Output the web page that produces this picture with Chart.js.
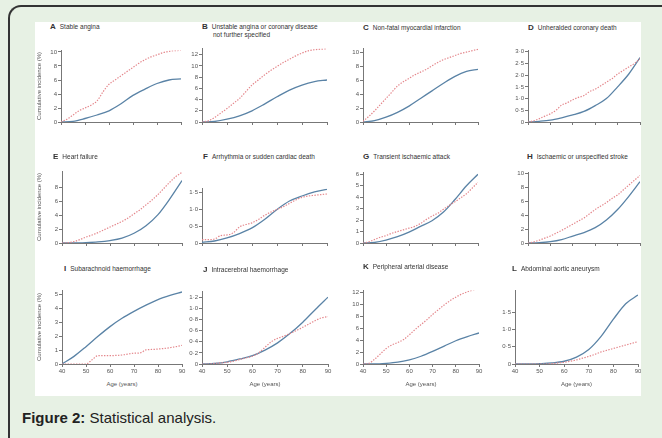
<!DOCTYPE html>
<html>
<head>
<meta charset="utf-8">
<script src="https://cdn.jsdelivr.net/npm/chart.js@4.4.1/dist/chart.umd.min.js"></script>
<style>
  body { margin: 0; width: 662px; height: 438px; background: #e7f1e4; position: relative; overflow: hidden; font-family: "Liberation Sans Narrow", "Liberation Sans", sans-serif; }
  .frame { position: absolute; left: 8px; top: 5px; width: 720px; height: 500px; border-top: 2px solid #333; border-left: 2px solid #333; border-top-left-radius: 13px; }
  #fig { position: absolute; left: 35px; top: 22px; width: 606px; height: 374px; background: #fff; overflow: hidden; }
  #fig canvas { position: absolute; }
  .ttl { position: absolute; font-size: 6.5px; color: #333; white-space: nowrap; line-height: 8px; }
  .ttl b { font-size: 8px; margin-right: 4px; }
  .ytl { position: absolute; font-size: 6px; color: #555; white-space: nowrap; transform: translate(-50%, -50%) rotate(-90deg); }
  .xtl { position: absolute; font-size: 6px; color: #555; white-space: nowrap; transform: translateX(-50%); }
  .cap { position: absolute; left: 22px; top: 410px; font-family: "Liberation Sans", Arial, sans-serif; font-size: 15px; line-height: 15px; color: #222; }
</style>
</head>
<body>
<div class="frame"></div>
<div id="fig"></div>
<div class="cap"><b>Figure 2:</b> Statistical analysis.</div>
<script>
// ages on the x axis
var ages5 = [40, 45, 50, 55, 60, 65, 70, 75, 80, 85, 90];
var ages25 = [40, 42.5, 45, 47.5, 50, 52.5, 55, 57.5, 60, 62.5, 65, 67.5, 70, 72.5, 75, 77.5, 80, 82.5, 85, 87.5, 90];

// solid blue curves (ages5)
var aBlue = [0, 0.1, 0.5, 1.0, 1.6, 2.6, 3.8, 4.7, 5.5, 6.0, 6.15];
var bBlue = [0, 0.1, 0.5, 1.1, 2.0, 3.2, 4.5, 5.7, 6.6, 7.2, 7.5];
var cBlue = [0, 0.2, 0.7, 1.4, 2.3, 3.4, 4.5, 5.6, 6.6, 7.3, 7.6];
var dBlue = [0, 0.03, 0.08, 0.18, 0.3, 0.45, 0.7, 1.0, 1.5, 2.05, 2.75];
var eBlue = [0, 0, 0.05, 0.15, 0.35, 0.7, 1.4, 2.5, 4.1, 6.4, 9.0];
var fBlue = [0.02, 0.06, 0.15, 0.28, 0.45, 0.7, 1.0, 1.25, 1.4, 1.52, 1.6];
var gBlue = [0, 0.05, 0.25, 0.55, 0.95, 1.45, 1.95, 2.7, 3.8, 5.0, 6.0];
var hBlue = [0, 0.05, 0.2, 0.5, 1.0, 1.5, 2.2, 3.3, 4.8, 6.7, 8.8];
var iBlue = [0, 0.55, 1.25, 2.0, 2.7, 3.3, 3.8, 4.25, 4.65, 4.95, 5.2];
var jBlue = [0, 0.01, 0.04, 0.09, 0.15, 0.25, 0.38, 0.55, 0.75, 0.98, 1.2];
var kBlue = [0, 0, 0.1, 0.3, 0.7, 1.3, 2.1, 3.0, 3.9, 4.6, 5.2];
var lBlue = [0, 0, 0.01, 0.03, 0.08, 0.2, 0.42, 0.8, 1.3, 1.75, 2.0];

// dotted red curves (ages25)
var aRed = [0, 0.4, 1.0, 1.6, 2.0, 2.4, 3.0, 4.3, 5.4, 6.0, 6.6, 7.2, 7.8, 8.4, 8.9, 9.3, 9.6, 9.9, 10.1, 10.2, 10.25];
var bRed = [0, 0.2, 0.8, 1.6, 2.4, 3.3, 4.2, 5.4, 6.6, 7.5, 8.4, 9.2, 9.9, 10.6, 11.2, 11.8, 12.3, 12.7, 12.9, 13.0, 13.05];
var cRed = [0.1, 0.8, 1.6, 2.5, 3.4, 4.3, 5.2, 5.8, 6.3, 6.8, 7.2, 7.6, 8.1, 8.6, 9.0, 9.3, 9.6, 9.9, 10.1, 10.3, 10.5];
var dRed = [0, 0.05, 0.14, 0.25, 0.35, 0.5, 0.72, 0.82, 0.95, 1.05, 1.13, 1.3, 1.4, 1.55, 1.7, 1.85, 2.05, 2.2, 2.35, 2.5, 2.7];
var eRed = [0, 0.05, 0.2, 0.5, 0.85, 1.15, 1.5, 1.9, 2.3, 2.7, 3.1, 3.6, 4.2, 4.8, 5.5, 6.2, 7.0, 7.9, 8.8, 9.6, 10.2];
var fRed = [0.1, 0.1, 0.12, 0.22, 0.24, 0.3, 0.48, 0.55, 0.6, 0.7, 0.82, 0.92, 1.0, 1.08, 1.18, 1.28, 1.36, 1.4, 1.42, 1.44, 1.46];
var gRed = [0, 0.1, 0.3, 0.5, 0.65, 0.85, 1.0, 1.15, 1.3, 1.45, 1.7, 2.05, 2.35, 2.6, 2.95, 3.3, 3.6, 3.95, 4.3, 4.8, 5.3];
var hRed = [0, 0.15, 0.4, 0.7, 1.0, 1.4, 1.8, 2.25, 2.7, 3.15, 3.6, 4.2, 4.8, 5.3, 5.8, 6.4, 6.9, 7.6, 8.3, 9.0, 9.7];
var iRed = [0, 0, 0, 0, 0, 0.3, 0.6, 0.6, 0.6, 0.62, 0.65, 0.72, 0.78, 0.8, 1.02, 1.05, 1.08, 1.12, 1.18, 1.25, 1.35];
var jRed = [0, 0, 0.01, 0.02, 0.03, 0.05, 0.08, 0.11, 0.14, 0.2, 0.3, 0.4, 0.46, 0.5, 0.55, 0.6, 0.66, 0.72, 0.78, 0.83, 0.85];
var kRed = [0, 0.1, 0.8, 1.7, 2.6, 3.2, 3.6, 4.1, 4.9, 5.8, 6.6, 7.4, 8.3, 9.1, 9.9, 10.6, 11.2, 11.7, 12.1, 12.4, 12.6];
var lRed = [0, 0, 0, 0, 0, 0, 0.01, 0.03, 0.05, 0.08, 0.12, 0.17, 0.22, 0.28, 0.35, 0.4, 0.45, 0.5, 0.55, 0.6, 0.65];

var letters = ['A', 'B', 'C', 'D', 'E', 'F', 'G', 'H', 'I', 'J', 'K', 'L'];
var titles = [
  'Stable angina',
  'Unstable angina or coronary disease',
  'Non-fatal myocardial infarction',
  'Unheralded coronary death',
  'Heart failure',
  'Arrhythmia or sudden cardiac death',
  'Transient ischaemic attack',
  'Ischaemic or unspecified stroke',
  'Subarachnoid haemorrhage',
  'Intracerebral haemorrhage',
  'Peripheral arterial disease',
  'Abdominal aortic aneurysm'
];
var blues = [aBlue, bBlue, cBlue, dBlue, eBlue, fBlue, gBlue, hBlue, iBlue, jBlue, kBlue, lBlue];
var reds = [aRed, bRed, cRed, dRed, eRed, fRed, gRed, hRed, iRed, jRed, kRed, lRed];
// y axis: max, step and last labelled tick
var yMax = [10.2, 13.1, 10.6, 3.05, 10.3, 1.62, 6.15, 10.1, 5.3, 1.3, 12.3, 2.13];
var yStep = [2, 2, 2, 0.5, 2, 0.5, 1, 2, 1, 0.2, 2, 0.5];
var yTop = [10, 12, 10, 3, 8, 1.5, 6, 10, 5, 1.2, 12, 1.5];

// page layout of each plot area (left, right, top, bottom) and title spot
var boxes = [
  [61, 181, 50, 122], [202, 327, 48, 122], [363, 478, 48, 122], [528, 640, 50, 122],
  [62, 182, 171, 243], [202, 327, 188, 243], [363, 478, 172, 243], [528, 640, 172, 243],
  [62, 182, 290, 364], [202, 328, 291, 364], [363, 479, 290, 364], [515, 638, 290, 364]
];
var titlePos = [
  [50, 23], [202, 23], [363, 24], [528, 24],
  [53, 153], [203, 153], [363, 153], [527, 153],
  [64, 265], [203, 266], [363, 263], [512, 265]
];

var OX = 35, OY = 22;
var FONT = '"Liberation Sans Narrow", "Liberation Sans", sans-serif';
var BLUE = '#5a83a6';
var RED = '#e4868b';
var fig = document.getElementById('fig');

function fmt(v, step) {
  if (v === 0) return '0';
  if (step < 1) return v.toFixed(1).replace('.', '\u00b7');
  return String(v);
}

letters.forEach(function (letter, i) {
  var b = boxes[i];
  var bottomRow = i >= 8;
  var yAxisW = 22, padT = 4, padR = 6, xAxisH = 14;

  var t = document.createElement('div');
  t.className = 'ttl';
  t.style.left = (titlePos[i][0] - OX) + 'px';
  t.style.top = (titlePos[i][1] - OY) + 'px';
  t.innerHTML = '<b>' + letter + '</b>' + titles[i];
  if (i === 1) t.innerHTML += '<br><span style="margin-left:11px">not further specified</span>';
  fig.appendChild(t);

  var canvas = document.createElement('canvas');
  var w = (b[1] - b[0]) + yAxisW + padR;
  var h = (b[3] - b[2]) + padT + xAxisH;
  canvas.width = w;
  canvas.height = h;
  canvas.style.left = (b[0] - yAxisW - OX) + 'px';
  canvas.style.top = (b[2] - padT - OY) + 'px';
  fig.appendChild(canvas);

  var tickVals = [];
  for (var k = 0; k <= Math.round(yTop[i] / yStep[i]); k++) {
    tickVals.push(Math.round(k * yStep[i] * 10) / 10);
  }

  new Chart(canvas, {
    type: 'line',
    data: {
      datasets: [
        {
          data: ages25.map(function (a, j) { return { x: a, y: reds[i][j] }; }),
          borderColor: RED,
          borderWidth: 1.2,
          borderDash: [1.4, 1.4],
          pointRadius: 0,
          cubicInterpolationMode: 'monotone'
        },
        {
          data: ages5.map(function (a, j) { return { x: a, y: blues[i][j] }; }),
          borderColor: BLUE,
          borderWidth: 1.3,
          pointRadius: 0,
          cubicInterpolationMode: 'monotone'
        }
      ]
    },
    options: {
      responsive: false,
      animation: false,
      devicePixelRatio: 1,
      events: [],
      layout: { padding: { top: padT, right: padR, left: 0, bottom: 0 } },
      plugins: { legend: { display: false }, tooltip: { enabled: false } },
      scales: {
        x: {
          type: 'linear',
          min: 40,
          max: 90,
          afterFit: function (a) { a.height = xAxisH; },
          ticks: { stepSize: 10, display: bottomRow, maxRotation: 0, padding: 1, color: '#555', font: { size: 6, family: FONT } },
          grid: { drawOnChartArea: false, tickLength: 3, color: '#777' },
          border: { color: '#777', width: 1 }
        },
        y: {
          min: 0,
          max: yMax[i],
          afterFit: function (a) { a.width = yAxisW; },
          afterBuildTicks: function (a) { a.ticks = tickVals.map(function (v) { return { value: v }; }); },
          ticks: {
            padding: 1,
            color: '#555',
            font: { size: 6, family: FONT },
            callback: function (v) { return fmt(v, yStep[i]); }
          },
          grid: { drawOnChartArea: false, tickLength: 3, color: '#777' },
          border: { color: '#777', width: 1 }
        }
      }
    }
  });

  if (bottomRow) {
    var xt = document.createElement('div');
    xt.className = 'xtl';
    xt.textContent = 'Age (years)';
    xt.style.left = ((b[0] + b[1]) / 2 - OX) + 'px';
    xt.style.top = (381 - OY) + 'px';
    fig.appendChild(xt);
  }
  if (i % 4 === 0) {
    var yt = document.createElement('div');
    yt.className = 'ytl';
    yt.textContent = 'Cumulative incidence (%)';
    yt.style.left = (39 - OX) + 'px';
    yt.style.top = ((b[2] + b[3]) / 2 - OY) + 'px';
    fig.appendChild(yt);
  }
});
</script>
</body>
</html>
